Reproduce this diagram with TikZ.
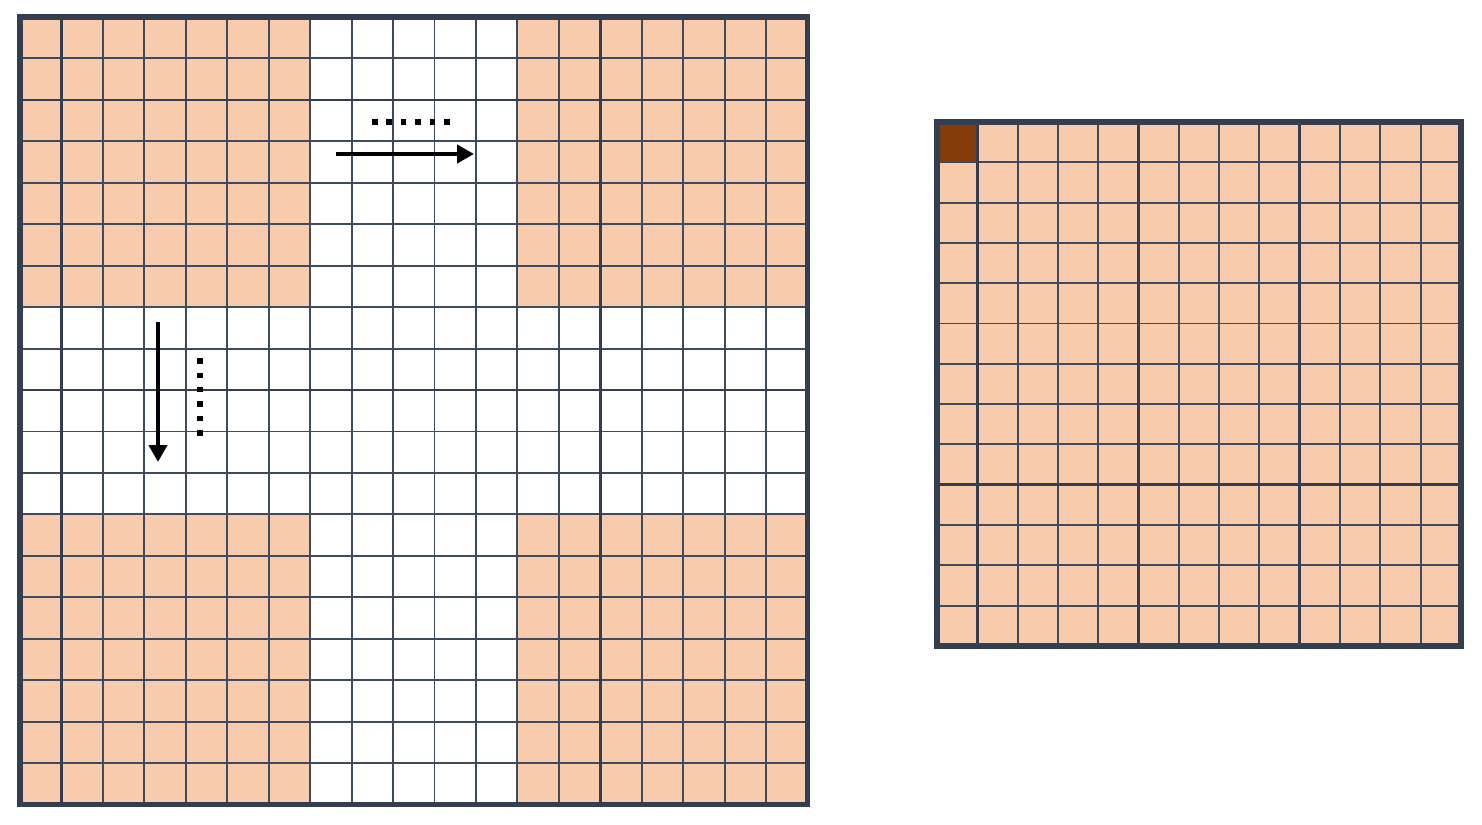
\documentclass[tikz,border=0pt]{standalone}
\usetikzlibrary{arrows.meta}
\definecolor{cellfill}{HTML}{F8CBAD}
\definecolor{pixfill}{HTML}{843C0C}
\definecolor{gridline}{HTML}{3E4B5E}
\definecolor{frameline}{HTML}{333F50}
\tikzset{
  gridrule/.style={draw=gridline, line width=1.1pt},
  majorrule/.style={draw=frameline, line width=1.5pt},
  frame/.style={draw=frameline, line width=3pt},
  scanarrow/.style={-{Triangle[length=0.34cm,width=0.36cm]}, line width=2.6pt},
  scandots/.style={line width=3.1pt, dash pattern=on 0.11cm off 0.18cm},
}
\begin{document}
\begin{tikzpicture}[x=0.02cm,y=-0.02cm]
\useasboundingbox (0,0) rectangle (1482,825);

% input image, padded (left)
\foreach \cx/\cy in {0/0,12/0,0/12,12/12}
  \fill[cellfill] ({20+\cx*41.45},{17+\cy*41.45}) rectangle ++(7*41.45,7*41.45);
\foreach \i in {1,...,18} {
  \draw[gridrule] ({20+\i*41.45},17) -- ++(0,19*41.45);
  \draw[gridrule] (20,{17+\i*41.45}) -- ++(19*41.45,0);
}
\foreach \i in {1,14}
  \draw[majorrule] ({20+\i*41.45},17) -- ++(0,19*41.45);
\foreach \i in {2,9}
  \draw[majorrule] (20,{17+\i*41.45}) -- ++(19*41.45,0);
\draw[frame] (20,17) rectangle ++(19*41.45,19*41.45);

% sliding directions
\coordinate (hstart) at (336,154);
\coordinate (hend) at (474,154);
\coordinate (vstart) at (158,322);
\coordinate (vend) at (158,462);
\draw[scanarrow] (hstart) -- (hend);
\draw[scandots] (372,122) -- (450,122);
\draw[scanarrow] (vstart) -- (vend);
\draw[scandots] (200,358) -- (200,436);

% output image (right)
\fill[cellfill] (937,122) rectangle ++(13*40.3,13*40.3);
\fill[pixfill] (937,122) rectangle ++(40.3,40.3);
\foreach \i in {1,...,12} {
  \draw[gridrule] ({937+\i*40.3},122) -- ++(0,13*40.3);
  \draw[gridrule] (937,{122+\i*40.3}) -- ++(13*40.3,0);
}
\foreach \i in {1,5,9}
  \draw[majorrule] ({937+\i*40.3},122) -- ++(0,13*40.3);
\foreach \i in {9}
  \draw[majorrule] (937,{122+\i*40.3}) -- ++(13*40.3,0);
\draw[frame] (937,122) rectangle ++(13*40.3,13*40.3);
\end{tikzpicture}
\end{document}
